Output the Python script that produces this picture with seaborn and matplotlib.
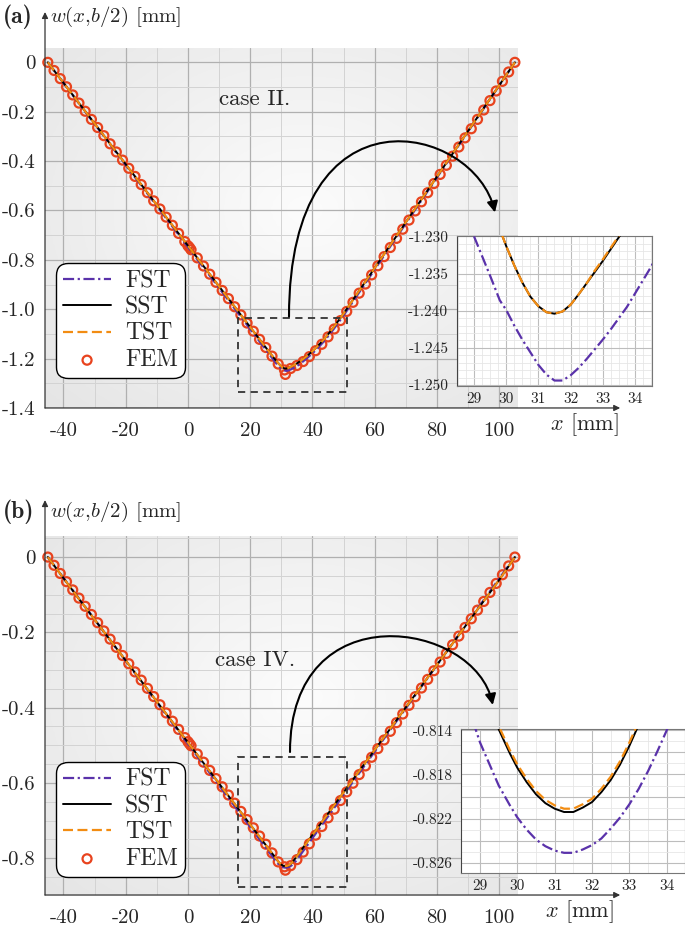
import numpy as np
import pandas as pd
import matplotlib
matplotlib.use("Agg")
import matplotlib.pyplot as plt
import seaborn as sns
from matplotlib.path import Path
from matplotlib.patches import FancyArrowPatch, Rectangle
from matplotlib.ticker import MultipleLocator, FixedLocator, FuncFormatter
from matplotlib.colors import LinearSegmentedColormap

sns.set_style("white")
plt.rcParams['font.family'] = ['cmr10', 'DejaVu Serif']
plt.rcParams['mathtext.fontset'] = 'cm'
plt.rcParams['axes.unicode_minus'] = False

# ---- data ----
# x positions of the analytical curves [mm]
x_line = [-45, -35, -25, -15, -5, 5, 15, 20, 24, 26, 27, 28, 29, 29.5, 29.8, 30.0,
          30.25, 30.5, 30.75, 31.0, 31.25, 31.5, 31.75, 32.0, 32.25, 32.5, 32.75, 33.0,
          33.25, 33.5, 33.75, 34.0, 34.5, 35, 36, 38, 40, 42, 44, 46, 48, 50,
          60, 70, 80, 90, 100, 105]

# case II.
fst_a = [0, -0.1662, -0.3324, -0.4986, -0.6648, -0.8310, -0.9972, -1.0803, -1.1468, -1.1800,
         -1.1967, -1.2133, -1.2300, -1.2353, -1.2386, -1.2399, -1.2420, -1.2439, -1.2456, -1.2473,
         -1.2486, -1.2494, -1.2494, -1.2487, -1.2477, -1.2465, -1.2452, -1.2439, -1.2425, -1.2410,
         -1.2395, -1.2377, -1.2341, -1.2300, -1.2215, -1.2007, -1.1785, -1.1534, -1.1252, -1.0939,
         -1.0597, -1.0249, -0.8386, -0.6522, -0.4659, -0.2795, -0.0932, 0]
sst_a = [0, -0.165, -0.330, -0.495, -0.660, -0.825, -0.990, -1.0725, -1.1385, -1.1715,
         -1.188, -1.2035, -1.2185, -1.2250, -1.2290, -1.2313, -1.2339, -1.2362, -1.2381, -1.2394,
         -1.2402, -1.2404, -1.2401, -1.2392, -1.2378, -1.2363, -1.2348, -1.2333, -1.2317, -1.2301,
         -1.2285, -1.2269, -1.2233, -1.2195, -1.2110, -1.1920, -1.1700, -1.1450, -1.1170, -1.0860,
         -1.0520, -1.0175, -0.8325, -0.6475, -0.4625, -0.2775, -0.0925, 0]
tst_a = [0, -0.165, -0.330, -0.495, -0.660, -0.825, -0.990, -1.0725, -1.1385, -1.1715,
         -1.188, -1.2035, -1.2185, -1.2250, -1.2290, -1.2313, -1.2339, -1.2362, -1.2381, -1.2394,
         -1.2402, -1.2404, -1.2401, -1.2392, -1.2378, -1.2363, -1.2346, -1.2331, -1.2315, -1.2299,
         -1.2283, -1.2267, -1.2231, -1.2195, -1.2110, -1.1920, -1.1700, -1.1450, -1.1170, -1.0860,
         -1.0520, -1.0175, -0.8325, -0.6475, -0.4625, -0.2775, -0.0925, 0]

# case IV.
fst_b = [0, -0.1103, -0.2206, -0.3309, -0.4412, -0.5515, -0.6618, -0.7169, -0.7610, -0.7831,
         -0.7941, -0.8050, -0.8151, -0.8190, -0.8208, -0.8219, -0.8230, -0.8239, -0.8245, -0.8249,
         -0.8251, -0.8251, -0.8248, -0.8244, -0.8238, -0.8229, -0.8219, -0.8207, -0.8193, -0.8177,
         -0.8159, -0.8140, -0.8094, -0.8041, -0.7926, -0.7696, -0.7466, -0.7236, -0.7006, -0.6776,
         -0.6546, -0.6316, -0.5166, -0.4016, -0.2866, -0.1716, -0.0566, 0]
sst_b = [0, -0.1111, -0.2202, -0.3292, -0.4382, -0.5472, -0.6562, -0.7107, -0.7543, -0.7761,
         -0.7870, -0.7975, -0.8090, -0.8139, -0.8161, -0.8174, -0.8187, -0.8198, -0.8206, -0.8211,
         -0.8214, -0.8214, -0.8210, -0.8205, -0.8196, -0.8185, -0.8171, -0.8154, -0.8135, -0.8112,
         -0.8087, -0.8060, -0.8003, -0.7947, -0.7834, -0.7608, -0.7382, -0.7156, -0.6930, -0.6704,
         -0.6478, -0.6252, -0.5122, -0.3992, -0.2862, -0.1732, -0.0602, 0]
tst_b = [0, -0.1111, -0.2202, -0.3292, -0.4382, -0.5472, -0.6562, -0.7107, -0.7543, -0.7761,
         -0.7870, -0.7975, -0.8087, -0.8136, -0.8158, -0.8171, -0.8184, -0.8195, -0.8203, -0.8208,
         -0.8211, -0.8211, -0.8207, -0.8202, -0.8193, -0.8182, -0.8168, -0.8151, -0.8132, -0.8109,
         -0.8084, -0.8057, -0.8000, -0.7947, -0.7834, -0.7608, -0.7382, -0.7156, -0.6930, -0.6704,
         -0.6478, -0.6252, -0.5122, -0.3992, -0.2862, -0.1732, -0.0602, 0]

# FEM nodes
fem_x = [-45, -43, -41, -39, -37, -35, -33, -31, -29, -27, -25, -23, -21, -19, -17, -15,
         -13, -11, -9, -7, -5, -3, -1, 0, 0.5, 1, 3, 5, 7, 9, 11, 13, 15, 17, 19, 21, 23,
         25, 27, 29, 31, 31.3, 33, 35, 37, 39, 41, 43, 45, 47, 49, 51, 53, 55, 57, 59, 61,
         63, 65, 67, 69, 71, 73, 75, 77, 79, 81, 83, 85, 87, 89, 91, 93, 95, 97, 99, 101,
         103, 105]
fem_a = [0, -0.033, -0.066, -0.099, -0.132, -0.165, -0.198, -0.231, -0.264, -0.297, -0.330,
         -0.363, -0.396, -0.429, -0.462, -0.495, -0.528, -0.561, -0.594, -0.627, -0.660, -0.693,
         -0.726, -0.743, -0.750, -0.759, -0.792, -0.825, -0.858, -0.891, -0.924, -0.957, -0.990,
         -1.023, -1.056, -1.089, -1.122, -1.155, -1.190, -1.222, -1.246, -1.264, -1.240, -1.228,
         -1.212, -1.192, -1.168, -1.142, -1.112, -1.080, -1.046, -1.009, -0.972, -0.935, -0.898,
         -0.861, -0.824, -0.787, -0.750, -0.713, -0.676, -0.639, -0.602, -0.565, -0.528, -0.491,
         -0.454, -0.417, -0.380, -0.343, -0.306, -0.269, -0.231, -0.193, -0.155, -0.116, -0.077,
         -0.039, 0]
fem_b = [0, -0.0218, -0.0436, -0.0654, -0.0872, -0.109, -0.1308, -0.1526, -0.1744, -0.1962,
         -0.218, -0.2398, -0.2616, -0.2834, -0.3052, -0.327, -0.3488, -0.3706, -0.3924, -0.4142,
         -0.436, -0.4578, -0.4796, -0.4905, -0.496, -0.5014, -0.5232, -0.545, -0.5668, -0.5886,
         -0.6104, -0.6322, -0.654, -0.6758, -0.6976, -0.7194, -0.7412, -0.7630, -0.7860, -0.8100,
         -0.8230, -0.8320, -0.8200, -0.8040, -0.7840, -0.7620, -0.7390, -0.7160, -0.6930, -0.6700,
         -0.6470, -0.6240, -0.6010, -0.5780, -0.5550, -0.5320, -0.5090, -0.4860, -0.4630, -0.4400,
         -0.4170, -0.3940, -0.3710, -0.3480, -0.3250, -0.3020, -0.2790, -0.2560, -0.2330, -0.2100,
         -0.1870, -0.1640, -0.1410, -0.1180, -0.0940, -0.0700, -0.0470, -0.0235, 0]

# ---- styles ----
C_FST = '#5a32aa'
C_SST = 'black'
C_TST = '#f28c12'
C_FEM = '#e8431e'
LS_FST = (0, (5, 1.6, 1, 1.6))
LS_TST = (0, (4.5, 2))

bg_cmap = LinearSegmentedColormap.from_list('bg', ['#e5e5e5', '#fcfcfc'])


def draw_curves(ax, fst, sst, tst, with_label=True):
    '''three analytical solutions'''
    curves = pd.DataFrame({'x': x_line, 'FST': fst, 'SST': sst, 'TST': tst})
    sns.lineplot(data=curves, x='x', y='FST', ax=ax, color=C_FST, lw=1.6, linestyle=LS_FST,
                 sort=False, estimator=None, label='FST' if with_label else None,
                 legend=False, zorder=3)
    sns.lineplot(data=curves, x='x', y='SST', ax=ax, color=C_SST, lw=1.4,
                 sort=False, estimator=None, label='SST' if with_label else None,
                 legend=False, zorder=4)
    sns.lineplot(data=curves, x='x', y='TST', ax=ax, color=C_TST, lw=1.6, linestyle=LS_TST,
                 sort=False, estimator=None, label='TST' if with_label else None,
                 legend=False, zorder=5)


def draw_main(ax, fst, sst, tst, fem, ylim, ystep, case_text, case_y, box, arc, leg_y):
    '''main deflection plot with grey background, grid, legend, zoom box and arrow'''
    # grey radial background
    yy, xx = np.mgrid[0:1:200j, 0:1:300j]
    r = np.sqrt(((xx - 0.55) / 0.85) ** 2 + ((yy - 0.55) / 0.85) ** 2)
    ax.imshow(1 - np.clip(r, 0, 1), extent=(0, 1, 0, 1), transform=ax.transAxes,
              cmap=bg_cmap, origin='lower', aspect='auto', zorder=0, interpolation='bilinear')

    fem_df = pd.DataFrame({'x': fem_x, 'w': fem})
    sns.scatterplot(data=fem_df, x='x', y='w', ax=ax, marker='o', s=42, facecolor='none',
                    edgecolor=C_FEM, linewidth=1.6, label='FEM', legend=False,
                    zorder=2, clip_on=False)
    draw_curves(ax, fst, sst, tst)

    ax.set_xlim(-45.9, 106)
    ax.set_ylim(*ylim)
    ax.set_xlabel('')
    ax.set_ylabel('')

    ax.xaxis.set_major_locator(MultipleLocator(20))
    ax.xaxis.set_minor_locator(MultipleLocator(10))
    ax.yaxis.set_major_locator(MultipleLocator(0.2))
    ax.yaxis.set_minor_locator(MultipleLocator(ystep))
    ax.xaxis.set_major_formatter(FuncFormatter(lambda v, p: '%d' % round(v)))
    ax.yaxis.set_major_formatter(FuncFormatter(
        lambda v, p: '0' if abs(v) < 1e-9 else '%.1f' % v))

    ax.set_axisbelow(True)
    ax.grid(which='major', color='#b0b0b0', lw=0.9)
    ax.grid(which='minor', color='#d3d3d3', lw=0.7)
    ax.tick_params(which='major', direction='out', length=5, width=0.8, color='#555',
                   labelsize=15, pad=2)
    ax.tick_params(which='minor', direction='out', length=3, width=0.7, color='#555')
    ax.tick_params(axis='x', pad=5)
    for s in ax.spines.values():
        s.set_visible(False)

    # axis arrows
    arrow_kw = dict(arrowstyle='-|>', color='#333', lw=0.9, mutation_scale=9,
                    shrinkA=0, shrinkB=0)
    ax.annotate('', xy=(0, 1.1), xytext=(0, 0), xycoords='axes fraction',
                textcoords='axes fraction', arrowprops=arrow_kw, annotation_clip=False)
    ax.annotate('', xy=(1.216, 0), xytext=(0, 0), xycoords='axes fraction',
                textcoords='axes fraction', arrowprops=arrow_kw, annotation_clip=False)

    ax.text(21.5, case_y, case_text, fontsize=16.5, ha='center', va='center')

    # zoomed region and curved arrow
    ax.add_patch(Rectangle((box[0], box[1]), box[2], box[3], fill=False, ec='#333',
                           lw=1.3, ls=(0, (4, 3)), zorder=6))
    path = Path(arc, [Path.MOVETO, Path.CURVE4, Path.CURVE4, Path.CURVE4])
    ax.add_patch(FancyArrowPatch(path=path, arrowstyle='-|>', mutation_scale=16,
                                 lw=1.5, color='black', zorder=7))

    # legend in FST, SST, TST, FEM order
    handles, labels = ax.get_legend_handles_labels()
    hmap = dict(zip(labels, handles))
    order = ['FST', 'SST', 'TST', 'FEM']
    leg = ax.legend([hmap[k] for k in order], order, loc='lower left',
                    bbox_to_anchor=(0.024, leg_y), borderaxespad=0, fontsize=17,
                    frameon=True, fancybox=True, framealpha=1, edgecolor='black',
                    handlelength=2.0, handletextpad=0.6, borderpad=0.3, labelspacing=0.18)
    leg.get_frame().set_linewidth(1.0)
    leg.get_frame().set_boxstyle('round', pad=0.0, rounding_size=0.5)
    leg.set_zorder(8)


def draw_inset(ax, fst, sst, tst, xlim, ylim, yticks, ylabels, xminor):
    '''zoom window near the minimum'''
    ax.set_facecolor('white')
    draw_curves(ax, fst, sst, tst, with_label=False)
    ax.set_xlim(*xlim)
    ax.set_ylim(*ylim)
    ax.set_xlabel('')
    ax.set_ylabel('')
    ax.xaxis.set_major_locator(FixedLocator([29, 30, 31, 32, 33, 34]))
    ax.xaxis.set_minor_locator(MultipleLocator(xminor))
    ax.yaxis.set_major_locator(FixedLocator(yticks))
    ax.yaxis.set_minor_locator(MultipleLocator(0.001))
    lab = dict(zip(yticks, ylabels))
    ax.yaxis.set_major_formatter(FuncFormatter(lambda v, p: lab.get(v, '')))
    ax.xaxis.set_major_formatter(FuncFormatter(lambda v, p: '%d' % round(v)))
    ax.set_axisbelow(True)
    ax.grid(which='major', color='#bdbdbd', lw=0.8)
    ax.grid(which='minor', color='#e6e6e6', lw=0.6)
    ax.tick_params(which='major', direction='out', length=4, width=0.7, color='#555',
                   labelsize=11, pad=2)
    ax.tick_params(which='minor', direction='out', length=2, width=0.5, color='#777')
    ax.tick_params(axis='x', which='both', length=0, pad=5)
    for s in ax.spines.values():
        s.set_color('#777')
        s.set_linewidth(0.8)
    ax.spines['left'].set_color('#444')


fig = plt.figure(figsize=(6.85, 9.27), dpi=100)

ax_a = fig.add_axes([0.0657, 0.5599, 0.6905, 0.3883])
ax_b = fig.add_axes([0.0657, 0.0345, 0.6905, 0.3873])

draw_main(ax_a, fst_a, sst_a, tst_a, fem_a, ylim=(-1.4, 0.058), ystep=0.1,
          case_text='case II.', case_y=-0.151, box=(16, -1.336, 35, 0.302),
          arc=[(32.46, -1.030), (32.46, -0.070), (92.2, -0.252), (98.6, -0.608)],
          leg_y=0.082)
draw_main(ax_b, fst_b, sst_b, tst_b, fem_b, ylim=(-0.898, 0.056), ystep=0.05,
          case_text='case IV.', case_y=-0.274, box=(16, -0.877, 35.2, 0.346),
          arc=[(32.78, -0.518), (32.78, -0.090), (92.5, -0.170), (97.9, -0.393)],
          leg_y=0.05)

ins_a = fig.add_axes([0.6667, 0.5839, 0.2851, 0.1618])
draw_inset(ins_a, fst_a, sst_a, tst_a, xlim=(28.46, 34.53), ylim=(-1.2501, -1.2299),
           yticks=[-1.250, -1.245, -1.240, -1.235, -1.230],
           ylabels=['-1.250', '-1.245', '-1.240', '-1.235', '-1.230'], xminor=0.25)

ins_b = fig.add_axes([0.6730, 0.0586, 0.3270, 0.1547])
draw_inset(ins_b, fst_b, sst_b, tst_b, xlim=(28.49, 34.49), ylim=(-0.8269, -0.8139),
           yticks=[-0.826, -0.824, -0.822, -0.820, -0.818, -0.816, -0.814],
           ylabels=['-0.826', '', '-0.822', '', '-0.818', '', '-0.814'], xminor=0.5)

# panel labels and axis titles
fig.text(0.004, 0.9817, '(a)', family='cmb10', fontsize=17, va='center', ha='left')
fig.text(0.073, 0.9817, r'$w(x{,}b/2)$ [mm]', fontsize=15, va='center', ha='left')
fig.text(0.803, 0.5415, r'$x$ [mm]', fontsize=16, va='center', ha='left')
fig.text(0.004, 0.448, '(b)', family='cmb10', fontsize=17, va='center', ha='left')
fig.text(0.073, 0.448, r'$w(x{,}b/2)$ [mm]', fontsize=15, va='center', ha='left')
fig.text(0.796, 0.0165, r'$x$ [mm]', fontsize=16, va='center', ha='left')

fig.savefig('out.png', dpi=100)
